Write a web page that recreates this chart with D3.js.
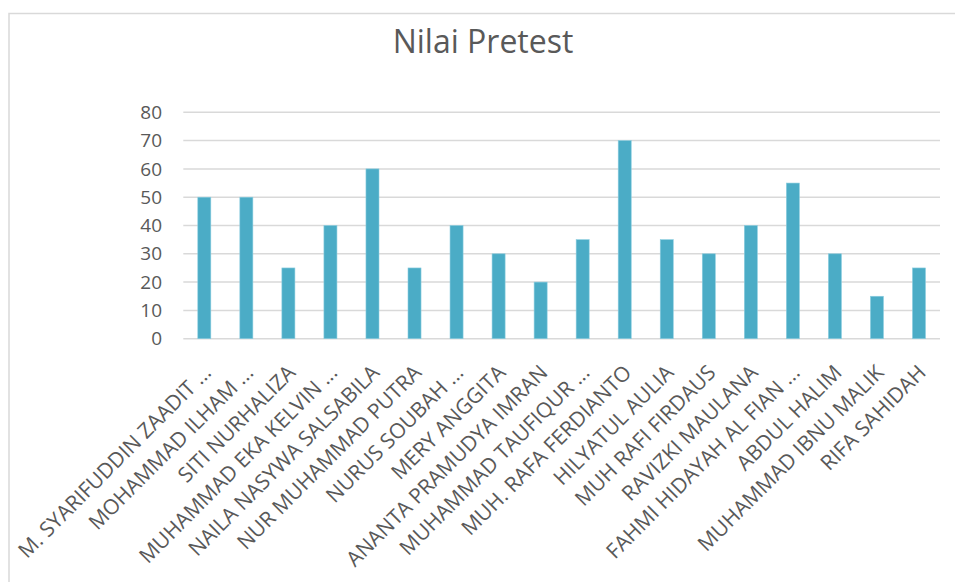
<!DOCTYPE html>
<html>
<head>
<meta charset="utf-8">
<script src="https://cdn.jsdelivr.net/npm/d3@7"></script>
<style>
  body { margin: 0; background: #fff; }
  svg { display: block; font-family: "Open Sans", sans-serif; }
</style>
</head>
<body>
<div id="chart"></div>
<script>
const names = [
  "M. SYARIFUDDIN ZAADIT ...", "MOHAMMAD ILHAM ...", "SITI NURHALIZA", "MUHAMMAD EKA KELVIN ...",
  "NAILA NASYWA SALSABILA", "NUR MUHAMMAD PUTRA", "NURUS SOUBAH ...", "MERY ANGGITA",
  "ANANTA PRAMUDYA IMRAN", "MUHAMMAD TAUFIQUR ...", "MUH. RAFA FERDIANTO", "HILYATUL AULIA",
  "MUH RAFI FIRDAUS", "RAVIZKI MAULANA", "FAHMI HIDAYAH AL FIAN ...", "ABDUL HALIM",
  "MUHAMMAD IBNU MALIK", "RIFA SAHIDAH"
]
const scores = [50, 50, 25, 40, 60, 25, 40, 30, 20, 35, 70, 35, 30, 40, 55, 30, 15, 25]
const yTicks = [0, 10, 20, 30, 40, 50, 60, 70, 80]

const W = 955, H = 582
const plot = { left: 183.3, right: 940, top: 112.3, bottom: 338.7 }

const svg = d3.select('#chart').append('svg').attr('width', W).attr('height', H)

// chart frame (cropped on right and bottom)
svg.append('rect')
  .attr('x', 9).attr('y', 13.5)
  .attr('width', W + 20).attr('height', H + 20)
  .attr('fill', 'none').attr('stroke', '#d9d9d9').attr('stroke-width', 1.5)

svg.append('text')
  .attr('x', 483).attr('y', 53)
  .attr('text-anchor', 'middle')
  .attr('font-size', 32)
  .attr('fill', '#595959')
  .text('Nilai Pretest')

const x = d3.scaleBand().domain(names).range([plot.left, plot.right])
  .paddingInner(0.69).paddingOuter(0.345)
const y = d3.scaleLinear().domain([0, 80]).range([plot.bottom, plot.top])

// gridlines
svg.append('g').selectAll('line')
  .data(yTicks)
  .enter()
  .append('line')
  .attr('x1', plot.left).attr('x2', plot.right)
  .attr('y1', d => y(d)).attr('y2', d => y(d))
  .attr('stroke', '#d9d9d9').attr('stroke-width', 1.5)

// y tick labels
svg.append('g').selectAll('text')
  .data(yTicks)
  .enter()
  .append('text')
  .attr('x', 162).attr('y', d => y(d))
  .attr('dy', '0.35em')
  .attr('text-anchor', 'end')
  .attr('font-size', 19)
  .attr('fill', '#595959')
  .text(d => d)

// bars
svg.append('g').selectAll('rect')
  .data(scores)
  .enter()
  .append('rect')
  .attr('x', (d, i) => x(names[i]))
  .attr('y', d => y(d))
  .attr('width', x.bandwidth())
  .attr('height', d => y(0) - y(d))
  .attr('fill', '#4bacc6')
  .attr('stroke', '#8ccde0').attr('stroke-width', 0.6)

// category labels
svg.append('g').selectAll('text')
  .data(names)
  .enter()
  .append('text')
  .attr('transform', d => `translate(${x(d) + x.bandwidth() / 2 + 3},${plot.bottom + 30}) rotate(-45)`)
  .attr('dy', '0.35em')
  .attr('text-anchor', 'end')
  .attr('font-size', 21)
  .attr('fill', '#595959')
  .text(d => d)
</script>
</body>
</html>
